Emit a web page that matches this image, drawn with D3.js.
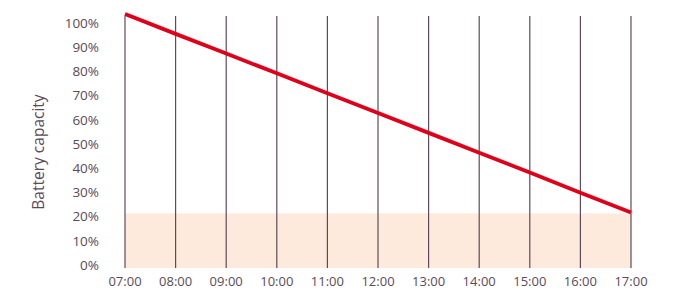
<!DOCTYPE html>
<html lang="en">
<head>
    <meta charset="utf-8">
    <title>Battery capacity</title>
    <script type="text/javascript" src="https://cdn.jsdelivr.net/npm/d3@7"></script>
    <style type="text/css">
        body { margin: 0; background: #fff; }
        text { font-family: "Open Sans", Lato, sans-serif; fill: #5b4a5a; }
    </style>
</head>
<body>
    <script type="text/javascript">

        //Data
        var hours = ["07:00", "08:00", "09:00", "10:00", "11:00", "12:00", "13:00", "14:00", "15:00", "16:00", "17:00"];
        var capacity = [103.7, 95.5, 87.4, 79.2, 71, 62.8, 54.6, 46.4, 38.2, 29.9, 21.7];
        var reserve = 21.3;
        var yTicks = [0, 10, 20, 30, 40, 50, 60, 70, 80, 90, 100];

        //Width and height
        var w = 684;
        var h = 288;
        var gridTop = 16;
        var gridBottom = 268;

        var svg = d3.select("body")
            .append("svg")
            .attr("width", w)
            .attr("height", h);

        var x = d3.scalePoint()
            .domain(hours)
            .range([125, 631]);

        var y = d3.scaleLinear()
            .domain([0, 100])
            .range([265, 23]);

        //Reserve band
        svg.append("rect")
            .attr("x", x(hours[0]))
            .attr("y", y(reserve))
            .attr("width", x(hours[hours.length - 1]) - x(hours[0]))
            .attr("height", gridBottom - y(reserve))
            .style("fill", "#fdeadc");

        //Vertical grid lines
        svg.selectAll("line.grid")
            .data(hours)
            .enter()
            .append("line")
            .attr("class", "grid")
            .attr("x1", function (d) { return x(d); })
            .attr("x2", function (d) { return x(d); })
            .attr("y1", gridTop)
            .attr("y2", gridBottom)
            .style("stroke", "#5e4a5c")
            .style("stroke-width", 1.2);

        //Y tick labels
        svg.selectAll("text.ytick")
            .data(yTicks)
            .enter()
            .append("text")
            .attr("class", "ytick")
            .attr("x", 99)
            .attr("y", function (d) { return y(d); })
            .attr("dy", "0.35em")
            .attr("text-anchor", "end")
            .style("font-size", "13.5px")
            .text(function (d) { return d + "%"; });

        //X tick labels
        svg.selectAll("text.xtick")
            .data(hours)
            .enter()
            .append("text")
            .attr("class", "xtick")
            .attr("x", function (d) { return x(d); })
            .attr("y", 285.5)
            .attr("text-anchor", "middle")
            .style("font-size", "13px")
            .text(function (d) { return d; });

        //Axis title
        svg.append("text")
            .attr("transform", "translate(39,152) rotate(-90)")
            .attr("dy", "0.35em")
            .attr("text-anchor", "middle")
            .style("font-size", "15.5px")
            .text("Battery capacity");

        //Capacity line
        var line = d3.line()
            .x(function (d, i) { return x(hours[i]); })
            .y(function (d) { return y(d); });

        svg.append("path")
            .datum(capacity)
            .attr("d", line)
            .style("fill", "none")
            .style("stroke", "#e1001a")
            .style("stroke-width", 3.8);

    </script>
</body>
</html>
